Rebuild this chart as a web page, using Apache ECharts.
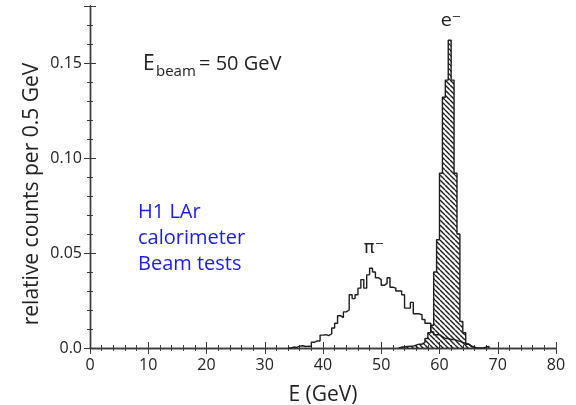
<!DOCTYPE html>
<html>
<head>
<meta charset="utf-8">
<script src="https://cdn.jsdelivr.net/npm/echarts@6/dist/echarts.min.js"></script>
<style>
  html, body { margin: 0; padding: 0; background: #fff; }
  #chart { width: 576px; height: 405px; }
</style>
</head>
<body>
<div id="chart"></div>
<script>
// Energy spectra, 0.5 GeV bins
const binWidth = 0.5;

// pi- response: first bin starts at 34.0 GeV
const pionFirstEdge = 34.0;
const pionCounts = [
  0, 0.0005, 0.0003, 0.001, 0.0012, 0.0008, 0.001, 0.0008,   // 34.0 - 37.5
  0.003, 0.0037, 0.0037, 0.0068, 0.007, 0.0065, 0.0075,      // 38.0 - 41.0
  0.0105, 0.013, 0.017, 0.016, 0.019, 0.020, 0.028,          // 41.5 - 44.5
  0.026, 0.028, 0.0315, 0.036, 0.0315, 0.0385, 0.042,        // 45.0 - 48.0
  0.040, 0.037, 0.036, 0.033, 0.034, 0.037, 0.032,           // 48.5 - 51.5
  0.0315, 0.030, 0.030, 0.028, 0.021, 0.021, 0.024,          // 52.0 - 55.0
  0.018, 0.018, 0.0175, 0.015, 0.013, 0.013, 0.0085,         // 55.5 - 58.5
  0.007, 0.007, 0.006, 0.005, 0.005, 0.0045, 0.0045,         // 59.0 - 62.0
  0.004, 0.0035, 0.003, 0.0025, 0.002, 0.001, 0.0005,        // 62.5 - 65.5
  0, 0, 0, 0.0005, 0.0008                                    // 66.0 - 68.0
];

// e- response: first bin starts at 53.0 GeV
const electronFirstEdge = 53.0;
const electronCounts = [
  0.0005, 0.0005, 0.0008, 0.001, 0.001, 0.0015, 0.002,       // 53.0 - 56.0
  0.002, 0.003, 0.005, 0.008, 0.012, 0.040, 0.057,           // 56.5 - 60.0
  0.092, 0.132, 0.141, 0.162, 0.141, 0.092, 0.060,           // 60.5 - 63.5
  0.014, 0.008, 0.002, 0.001, 0.0005                         // 64.0 - 66.0
];

const xRange = [0, 80];
const yRange = [0, 0.18];

// Histogram outline as a stepped polyline: one point per bin edge
function stepOutline(firstEdge, counts) {
  const pts = [[firstEdge, 0]];
  counts.forEach((c, i) => pts.push([firstEdge + i * binWidth, c]));
  pts.push([firstEdge + counts.length * binWidth, 0]);
  return pts;
}

// Diagonal hatching for the electron histogram
function hatchPattern() {
  const s = 5;
  const c = document.createElement('canvas');
  c.width = s; c.height = s;
  const g = c.getContext('2d');
  g.strokeStyle = '#1e1e1e';
  g.lineWidth = 1.4;
  for (const k of [-s, 0, s]) {
    g.beginPath();
    g.moveTo(k, 0);
    g.lineTo(k + s, s);
    g.stroke();
  }
  return c;
}

const FONT = '"Open Sans", "DejaVu Sans", sans-serif';
const frameLine = { show: true, lineStyle: { color: '#3a3a3a', width: 1.4 } };
const tickStyle = { show: true, inside: true, length: 6, lineStyle: { color: '#3a3a3a', width: 1 } };
const minorStyle = { show: true, splitNumber: 5, length: 3, lineStyle: { color: '#3a3a3a', width: 1 } };

const chart = echarts.init(document.getElementById('chart'), null, { renderer: 'canvas' });

chart.setOption({
  animation: false,
  backgroundColor: '#fff',
  grid: { left: 90, right: 20, top: 6, bottom: 57, containLabel: false, outerBoundsMode: 'none' },
  xAxis: [
    {
      type: 'value', min: xRange[0], max: xRange[1], interval: 10, position: 'bottom',
      axisLine: frameLine, axisTick: tickStyle, minorTick: minorStyle,
      splitLine: { show: false },
      axisLabel: { fontSize: 16, color: '#222', margin: 9, fontFamily: FONT },
      name: 'E (GeV)', nameLocation: 'middle', nameGap: 37,
      nameTextStyle: { fontSize: 21, color: '#222', fontFamily: FONT }
    },
    {
      type: 'value', min: xRange[0], max: xRange[1], interval: 10, position: 'top',
      axisLine: frameLine, axisTick: tickStyle, minorTick: minorStyle,
      splitLine: { show: false }, axisLabel: { show: false }
    }
  ],
  yAxis: [
    {
      type: 'value', min: yRange[0], max: yRange[1], interval: 0.05, position: 'left',
      axisLine: frameLine, axisTick: tickStyle, minorTick: minorStyle,
      splitLine: { show: false },
      axisLabel: {
        fontSize: 16, color: '#222', margin: 8, fontFamily: FONT, showMaxLabel: false,
        formatter: v => (v === 0 ? '0.0' : v.toFixed(2))
      }
    },
    {
      type: 'value', min: yRange[0], max: yRange[1], interval: 0.05, position: 'right',
      axisLine: frameLine, axisTick: tickStyle, minorTick: minorStyle,
      splitLine: { show: false }, axisLabel: { show: false }
    }
  ],
  series: [
    {
      name: 'e-', type: 'line', step: 'end', symbol: 'none',
      data: stepOutline(electronFirstEdge, electronCounts),
      lineStyle: { color: '#1e1e1e', width: 1.4 },
      areaStyle: { color: { image: hatchPattern(), repeat: 'repeat' }, opacity: 1 },
      z: 2
    },
    {
      name: 'pi-', type: 'line', step: 'end', symbol: 'none',
      data: stepOutline(pionFirstEdge, pionCounts),
      lineStyle: { color: '#1e1e1e', width: 1.4 },
      z: 3
    }
  ],
  graphic: [
    {
      type: 'text', x: 32, y: 194, rotation: Math.PI / 2,
      style: {
        text: 'relative counts per 0.5 GeV', fill: '#222',
        font: '21px ' + FONT, align: 'center', verticalAlign: 'middle'
      }
    },
    { type: 'text', x: 143, y: 64, style: { text: 'E', fill: '#222', font: '21px ' + FONT, align: 'left', verticalAlign: 'middle' } },
    { type: 'text', x: 156, y: 72, style: { text: 'beam', fill: '#222', font: '15px ' + FONT, align: 'left', verticalAlign: 'middle' } },
    { type: 'text', x: 199, y: 64, style: { text: '= 50 GeV', fill: '#222', font: '20px ' + FONT, align: 'left', verticalAlign: 'middle' } },
    { type: 'text', x: 374, y: 248, style: { text: 'π⁻', fill: '#222', font: '18px "DejaVu Sans", sans-serif', align: 'center', verticalAlign: 'middle' } },
    { type: 'text', x: 451, y: 21, style: { text: 'e⁻', fill: '#222', font: '18px "DejaVu Sans", sans-serif', align: 'center', verticalAlign: 'middle' } },
    { type: 'text', x: 138, y: 212, style: { text: 'H1 LAr', fill: '#1c1cf2', font: '20px ' + FONT, align: 'left', verticalAlign: 'middle' } },
    { type: 'text', x: 138, y: 238, style: { text: 'calorimeter', fill: '#1c1cf2', font: '20px ' + FONT, align: 'left', verticalAlign: 'middle' } },
    { type: 'text', x: 138, y: 264, style: { text: 'Beam tests', fill: '#1c1cf2', font: '20px ' + FONT, align: 'left', verticalAlign: 'middle' } }
  ]
});
</script>
</body>
</html>
